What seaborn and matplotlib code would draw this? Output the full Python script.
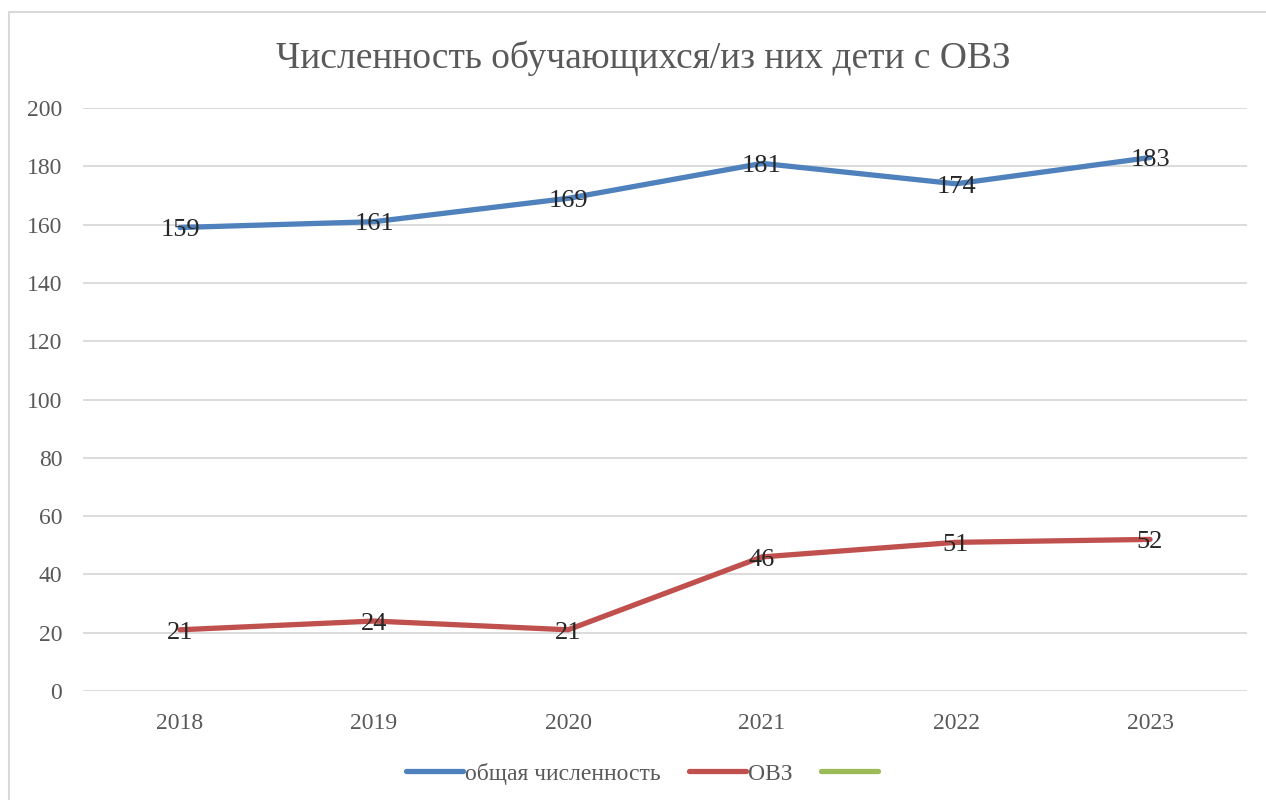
import matplotlib
matplotlib.use("Agg")
import matplotlib.pyplot as plt
import seaborn as sns
import pandas as pd
from matplotlib.lines import Line2D
from matplotlib.patches import Rectangle

years = ["2018", "2019", "2020", "2021", "2022", "2023"]
total = [159, 161, 169, 181, 174, 183]
ovz = [21, 24, 21, 46, 51, 52]
series_names = ["общая численность", "ОВЗ"]
title = "Численность обучающихся/из них дети с ОВЗ"
colors = ["#4F81BD", "#C0504D", "#9BBB59"]

sns.set_theme(style="white")
plt.rcParams['font.family'] = ['Liberation Serif', 'DejaVu Serif']

df = pd.DataFrame({
    "x": list(range(len(years))) * 2,
    "value": total + ovz,
    "series": [series_names[0]] * len(years) + [series_names[1]] * len(years),
})

fig = plt.figure(figsize=(12.66, 8), dpi=100)
ax = fig.add_axes([0.0656, 0.13625, 0.9194, 0.72875])

sns.lineplot(data=df, x="x", y="value", hue="series", palette=colors[:2],
             linewidth=3.8, ax=ax, legend=False, sort=False)
for line in ax.lines:
    line.set_solid_capstyle("round")

for vals in (total, ovz):
    for i, v in enumerate(vals):
        ax.annotate(str(v), (i, v), xytext=(0, -2), textcoords="offset points",
                    ha="center", va="center", fontsize=19, color="#262626")

ax.set_xlim(-0.5, len(years) - 0.5)
ax.set_ylim(0, 200)
ax.set_yticks(range(0, 201, 20))
ax.set_xticks(range(len(years)))
ax.set_xticklabels(years)
ax.set_xlabel("")
ax.set_ylabel("")
ax.grid(axis="y", color="#D9D9D9", linewidth=1.3)
ax.set_axisbelow(True)
for s in ax.spines.values():
    s.set_visible(False)
ax.tick_params(axis="both", length=0, labelsize=17, labelcolor="#595959")
ax.tick_params(axis="y", pad=15)
ax.tick_params(axis="x", pad=16)

fig.text(0.508, 0.927, title, ha="center", va="center", fontsize=27, color="#595959")

handles = [Line2D([0], [0], color=c, linewidth=3.8, solid_capstyle="round") for c in colors]
labels = series_names + [""]
fig.legend(handles, labels, loc="center", bbox_to_anchor=(0.508, 0.033), ncol=3,
           frameon=False, fontsize=17, labelcolor="#595959", handlelength=2.4,
           handletextpad=0.1, columnspacing=1.2)

fig.patches.append(Rectangle((9 / 1266, -0.1), 1.2, 1 - 12 / 800 + 0.1, transform=fig.transFigure,
                             fill=False, edgecolor="#D9D9D9", linewidth=1.5))

fig.savefig("out.png", dpi=100)
